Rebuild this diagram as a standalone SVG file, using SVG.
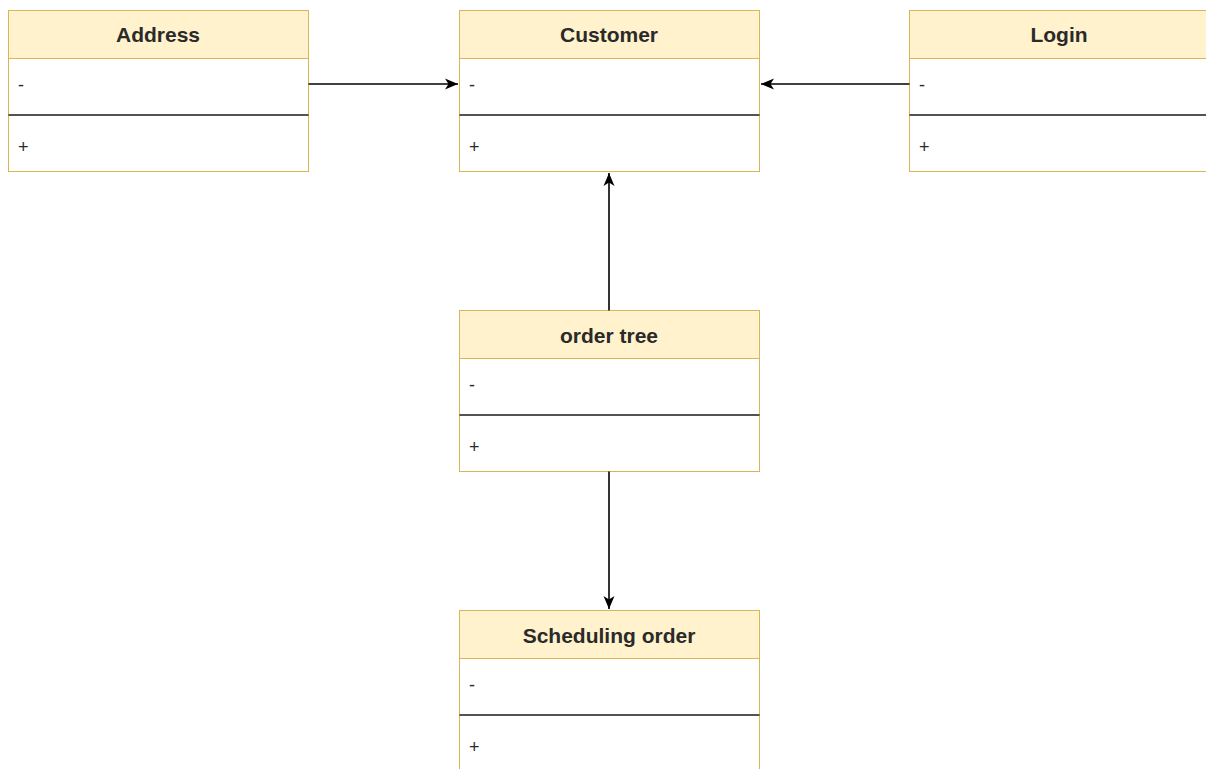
<svg xmlns="http://www.w3.org/2000/svg" width="1206" height="769" viewBox="0 0 1206 769">
<style>
.hdr{fill:#fff2cc;stroke:#d6b656;stroke-width:1}
.body{fill:#ffffff;stroke:#d6b656;stroke-width:1}
.div{stroke:#1a1a1a;stroke-width:1.5}
.title{font-family:"Liberation Sans",Arial,sans-serif;font-size:21px;font-weight:bold;fill:#2a2a2a;text-anchor:middle}
.mem{font-family:"Liberation Sans",Arial,sans-serif;font-size:18px;fill:#2a2a2a}
.conn{stroke:#000;stroke-width:1.6;fill:none}
</style>
<defs>
<marker id="arr" markerWidth="14" markerHeight="14" viewBox="0 0 14 14" refX="13" refY="7" orient="auto" markerUnits="userSpaceOnUse">
<path d="M0,1.5 L13,7 L0,12.5 L3.5,7 Z" fill="#000"/>
</marker>
</defs>
<rect width="1206" height="769" fill="#ffffff"/>
<g id="address">
<rect class="body" x="8.5" y="10.5" width="300" height="161"/>
<rect class="hdr" x="8.5" y="10.5" width="300" height="48"/>
<line class="div" x1="8.5" y1="115" x2="308.5" y2="115"/>
<text class="title" x="158" y="42">Address</text>
<text class="mem" x="18" y="91">-</text>
<text class="mem" x="18" y="153">+</text>
</g>
<g id="customer">
<rect class="body" x="459.5" y="10.5" width="300" height="161"/>
<rect class="hdr" x="459.5" y="10.5" width="300" height="48"/>
<line class="div" x1="459.5" y1="115" x2="759.5" y2="115"/>
<text class="title" x="609" y="42">Customer</text>
<text class="mem" x="469" y="91">-</text>
<text class="mem" x="469" y="153">+</text>
</g>
<g id="login">
<rect class="body" x="909.5" y="10.5" width="300" height="161"/>
<rect class="hdr" x="909.5" y="10.5" width="300" height="48"/>
<line class="div" x1="909.5" y1="115" x2="1209.5" y2="115"/>
<text class="title" x="1059" y="42">Login</text>
<text class="mem" x="919" y="91">-</text>
<text class="mem" x="919" y="153">+</text>
</g>
<g id="order-tree">
<rect class="body" x="459.5" y="310.5" width="300" height="161"/>
<rect class="hdr" x="459.5" y="310.5" width="300" height="48"/>
<line class="div" x1="459.5" y1="415" x2="759.5" y2="415"/>
<text class="title" x="609" y="343">order tree</text>
<text class="mem" x="469" y="391">-</text>
<text class="mem" x="469" y="453">+</text>
</g>
<g id="scheduling-order">
<rect class="body" x="459.5" y="610.5" width="300" height="170"/>
<rect class="hdr" x="459.5" y="610.5" width="300" height="48"/>
<line class="div" x1="459.5" y1="715" x2="759.5" y2="715"/>
<text class="title" x="609" y="643">Scheduling order</text>
<text class="mem" x="469" y="691">-</text>
<text class="mem" x="469" y="753">+</text>
</g>
<g id="connectors">
<line class="conn" x1="308.5" y1="84" x2="458" y2="84" marker-end="url(#arr)"/>
<line class="conn" x1="909.5" y1="84" x2="761" y2="84" marker-end="url(#arr)"/>
<line class="conn" x1="609" y1="310.5" x2="609" y2="173" marker-end="url(#arr)"/>
<line class="conn" x1="609" y1="471.5" x2="609" y2="609" marker-end="url(#arr)"/>
</g>
</svg>
